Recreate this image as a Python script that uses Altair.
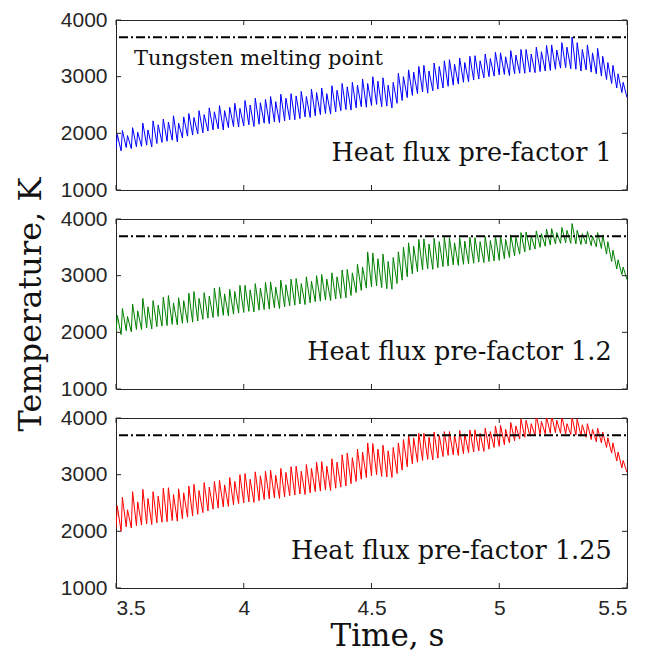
import altair as alt
import pandas as pd

# ---------------- data ----------------
T0 = 3.5          # first sample time, s
STEP = 0.02       # spacing of the sawtooth cycles, s
RISE = 0.005      # time from trough to peak inside a cycle, s
T_END = 5.5

MELT = 3695       # tungsten melting point, K

blue_trough = [
    1720, 1690, 1750, 1730, 1760, 1770, 1790, 1760, 1820, 1840,
    1860, 1880, 1850, 1920, 1950, 1970, 1990, 2010, 2040, 2060,
    2080, 2060, 2100, 2120, 2110, 2130, 2150, 2120, 2160, 2180,
    2170, 2200, 2190, 2220, 2240, 2240, 2260, 2290, 2280, 2310,
    2330, 2350, 2340, 2380, 2400, 2420, 2410, 2450, 2470, 2460,
    2490, 2510, 2470, 2480, 2450, 2530, 2580, 2630, 2670, 2700,
    2730, 2710, 2750, 2780, 2800, 2830, 2850, 2870, 2900, 2910,
    2940, 2960, 2980, 3000, 3010, 3030, 3040, 3020, 3050, 3060,
    3060, 3080, 3070, 3090, 3100, 3110, 3130, 3150, 3160, 3140,
    3130, 3100, 3120, 3080, 3050, 3010, 2950, 2880, 2800, 2720,
]
blue_peak = [
    1980, 2050, 1960, 2100, 2020, 2180, 2060, 2220, 2150, 2250,
    2200, 2310, 2180, 2290, 2350, 2280, 2400, 2330, 2450, 2380,
    2490, 2400, 2460, 2530, 2440, 2580, 2500, 2620, 2540, 2600,
    2650, 2560, 2690, 2620, 2700, 2660, 2740, 2650, 2780, 2720,
    2800, 2700, 2840, 2760, 2880, 2820, 2900, 2850, 2960, 2880,
    3000, 2920, 2980, 2850, 2900, 3060, 3000, 3120, 3080, 3180,
    3200, 3100, 3240, 3180, 3280, 3300, 3220, 3330, 3250, 3360,
    3370, 3280, 3400, 3320, 3430, 3420, 3350, 3460, 3380, 3480,
    3480, 3400, 3520, 3440, 3550, 3560, 3470, 3600, 3520, 3700,
    3600, 3480, 3560, 3420, 3500, 3360, 3250, 3200, 3050, 2900,
]
blue_end = 2630

green_trough = [
    2000, 1960, 2030, 2010, 2050, 2050, 2080, 2060, 2100, 2110,
    2120, 2140, 2130, 2160, 2170, 2180, 2200, 2230, 2250, 2260,
    2280, 2300, 2290, 2320, 2340, 2350, 2370, 2360, 2390, 2400,
    2410, 2430, 2420, 2450, 2470, 2480, 2500, 2490, 2520, 2540,
    2550, 2570, 2560, 2590, 2600, 2610, 2650, 2700, 2740, 2780,
    2800, 2820, 2790, 2770, 2760, 2860, 2920, 2980, 3030, 3070,
    3100, 3120, 3110, 3140, 3160, 3170, 3190, 3180, 3200, 3210,
    3220, 3240, 3230, 3250, 3260, 3270, 3300, 3320, 3350, 3380,
    3420, 3450, 3470, 3500, 3520, 3540, 3560, 3570, 3580, 3570,
    3560, 3550, 3560, 3530, 3510, 3480, 3380, 3250, 3120, 3020,
]
green_peak = [
    2300, 2420, 2280, 2500, 2380, 2600, 2450, 2560, 2480, 2620,
    2650, 2520, 2610, 2560, 2690, 2720, 2600, 2700, 2640, 2780,
    2800, 2680, 2760, 2720, 2830, 2830, 2750, 2860, 2780, 2880,
    2890, 2800, 2920, 2840, 2940, 2950, 2860, 2980, 2900, 3000,
    3020, 2940, 3050, 2980, 3100, 3110, 3050, 3200, 3150, 3420,
    3400, 3300, 3380, 3250, 3320, 3420, 3500, 3580, 3520, 3640,
    3650, 3560, 3660, 3600, 3680, 3670, 3580, 3670, 3610, 3680,
    3670, 3600, 3690, 3620, 3700, 3700, 3640, 3720, 3680, 3760,
    3770, 3700, 3790, 3740, 3820, 3830, 3760, 3850, 3800, 3920,
    3800, 3740, 3780, 3700, 3760, 3720, 3600, 3450, 3280, 3150,
]
green_end = 2930

red_trough = [
    2050, 2000, 2080, 2060, 2100, 2110, 2130, 2120, 2150, 2160,
    2170, 2190, 2180, 2220, 2250, 2270, 2300, 2330, 2360, 2390,
    2410, 2430, 2440, 2470, 2490, 2500, 2520, 2510, 2540, 2560,
    2570, 2590, 2580, 2610, 2630, 2640, 2660, 2650, 2680, 2700,
    2710, 2730, 2720, 2760, 2780, 2800, 2840, 2880, 2920, 2950,
    2980, 3000, 2970, 2960, 2950, 3020, 3080, 3140, 3190, 3220,
    3250, 3270, 3260, 3290, 3320, 3340, 3350, 3340, 3370, 3390,
    3400, 3420, 3410, 3450, 3480, 3500, 3530, 3560, 3600, 3630,
    3660, 3680, 3690, 3710, 3720, 3730, 3740, 3730, 3720, 3710,
    3700, 3680, 3660, 3620, 3580, 3560, 3480, 3380, 3240, 3120,
]
red_peak = [
    2450, 2600, 2380, 2700, 2520, 2740, 2580, 2700, 2620, 2760,
    2770, 2650, 2750, 2680, 2800, 2830, 2720, 2860, 2780, 2880,
    2900, 2820, 2950, 2880, 3000, 3020, 2920, 3050, 2980, 3060,
    3080, 2990, 3110, 3040, 3140, 3150, 3060, 3180, 3110, 3220,
    3230, 3150, 3280, 3220, 3350, 3380, 3300, 3450, 3400, 3560,
    3550, 3450, 3520, 3420, 3480, 3560, 3620, 3700, 3650, 3730,
    3730, 3660, 3750, 3690, 3760, 3760, 3700, 3780, 3720, 3790,
    3790, 3730, 3820, 3760, 3860, 3870, 3800, 3920, 3860, 3980,
    3960, 3900, 4050, 3940, 4020, 4050, 3960, 4030, 3900, 4010,
    3980, 3880, 3900, 3800, 3820, 3750, 3650, 3560, 3400, 3250,
]
red_end = 3040

panel_labels = ["Heat flux pre-factor 1", "Heat flux pre-factor 1.2",
                "Heat flux pre-factor 1.25"]
colors = ["#0000ff", "#008000", "#ff0000"]
y_ticks = [1000, 2000, 3000, 4000]
x_ticks = [3.5, 4, 4.5, 5, 5.5]

# ---------------- helpers ----------------
W, H = 511, 170
SERIF = "DejaVu Serif"
SANS = "Liberation Sans"
FRAME = "#262626"
TXT = "#111111"


def build_series(trough, peak, end):
    t, v = [], []
    for i, (lo, hi) in enumerate(zip(trough, peak)):
        t0 = T0 + i * STEP
        t.append(t0); v.append(lo)
        t.append(t0 + RISE); v.append(hi)
    t.append(T_END); v.append(end)
    return pd.DataFrame({"t": t, "T": v})


xscale = alt.Scale(domain=[3.5, 5.5], nice=False, zero=False)
yscale = alt.Scale(domain=[1000, 4000], nice=False, zero=False)


def panel(df, color, label, show_x, show_ytitle, melt_text):
    yaxis = alt.Axis(values=y_ticks, ticks=False, domain=False, grid=False,
                     format="d",
                     labelFont=SANS, labelFontSize=21, labelColor="#262626",
                     labelPadding=9,
                     title="Temperature, K" if show_ytitle else None,
                     titleFont=SERIF, titleFontSize=32, titleFontWeight="normal",
                     titleColor=TXT, titlePadding=13)
    if show_x:
        xaxis = alt.Axis(values=x_ticks, ticks=False, domain=False, grid=False,
                         format=".1~f", labelFont=SANS, labelFontSize=21,
                         labelColor="#262626", labelPadding=9,
                         title="Time, s", titleFont=SERIF, titleFontSize=31,
                         titleFontWeight="normal", titleColor=TXT,
                         titlePadding=3, titleX=271, titleAlign="center")
    else:
        xaxis = None

    def X(field):
        return alt.X(field, scale=xscale, axis=xaxis)

    def Y(field):
        return alt.Y(field, scale=yscale, axis=yaxis)

    line = alt.Chart(df).mark_line(color=color, strokeWidth=1, clip=True).encode(
        x=X("t:Q"), y=Y("T:Q"))
    melt = alt.Chart(pd.DataFrame({"T": [MELT]})).mark_rule(
        color="black", strokeWidth=2, strokeDash=[9, 3, 2, 3]
    ).encode(y=Y("T:Q"), x=alt.value(3), x2=alt.value(W))

    lab = alt.Chart(pd.DataFrame({"t": [5.44], "T": [1650], "s": [label]})).mark_text(
        align="right", baseline="middle", font=SERIF, fontSize=25.5, color=TXT
    ).encode(x=X("t:Q"), y=Y("T:Q"), text="s:N")

    ytl = alt.Chart(pd.DataFrame({"v": y_ticks})).mark_rule(color=FRAME).encode(
        y=Y("v:Q"), x=alt.value(0), x2=alt.value(5))
    ytr = alt.Chart(pd.DataFrame({"v": y_ticks})).mark_rule(color=FRAME).encode(
        y=Y("v:Q"), x=alt.value(W - 5), x2=alt.value(W))
    xtb = alt.Chart(pd.DataFrame({"v": x_ticks})).mark_rule(color=FRAME).encode(
        x=X("v:Q"), y=alt.value(H - 5), y2=alt.value(H))
    xtt = alt.Chart(pd.DataFrame({"v": x_ticks})).mark_rule(color=FRAME).encode(
        x=X("v:Q"), y=alt.value(0), y2=alt.value(5))

    layers = [line, melt, lab, ytl, ytr, xtb, xtt]
    if melt_text:
        mt = alt.Chart(pd.DataFrame({"t": [3.57], "T": [3310],
                                     "s": ["Tungsten melting point"]})).mark_text(
            align="left", baseline="middle", font=SERIF, fontSize=21, color=TXT
        ).encode(x=X("t:Q"), y=Y("T:Q"), text="s:N")
        layers.append(mt)
    return alt.layer(*layers).properties(
        width=W, height=H,
        view=alt.ViewBackground(stroke=FRAME, strokeWidth=1, fill="white"))


p1 = panel(build_series(blue_trough, blue_peak, blue_end), colors[0],
           panel_labels[0], False, False, True)
p2 = panel(build_series(green_trough, green_peak, green_end), colors[1],
           panel_labels[1], False, True, False)
p3 = panel(build_series(red_trough, red_peak, red_end), colors[2],
           panel_labels[2], True, False, False)

chart = alt.vconcat(p1, p2, p3, spacing=29, bounds="flush").properties(
    padding={"top": 0, "left": 5, "right": 5, "bottom": 5}
).configure_view(
    stroke=FRAME, strokeWidth=1
).configure(background="white")

chart.save("out.html", embed_options={"renderer": "svg", "actions": False})
